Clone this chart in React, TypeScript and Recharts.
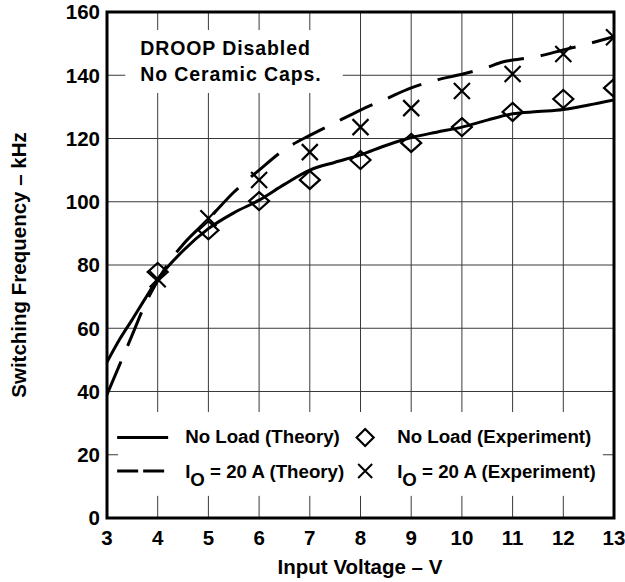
import React from 'react';
import {
  ComposedChart,
  Line,
  Scatter,
  XAxis,
  YAxis,
  CartesianGrid,
  ReferenceArea,
} from 'recharts';

// Theory curves: input voltage (V) vs switching frequency (kHz)
const noLoadTheoryVin = [3, 3.25, 3.5, 3.75, 4, 4.5, 5, 5.5, 6, 6.5, 7, 7.5, 8, 8.5, 9, 9.5, 10, 10.5, 11, 11.5, 12, 12.5, 13];
const noLoadTheoryKHz = [49.3, 56.5, 62.8, 69.3, 75.5, 84.5, 91.5, 96.5, 100.5, 105.5, 110, 112.5, 114.8, 117.8, 120.3, 122, 123.6, 125.8, 127.8, 128.5, 129.2, 130.6, 132.2];

const io20TheoryVin = [3, 3.25, 3.5, 3.75, 4, 4.25, 4.5, 5, 5.5, 6, 6.5, 7, 7.5, 8, 8.5, 9, 9.5, 10, 10.5, 10.8, 11, 11.5, 12, 12.5, 13];
const io20TheoryKHz = [39, 48.5, 58, 67.5, 75, 81.5, 86.5, 94.5, 103, 110, 116.5, 121, 125, 129, 132.5, 136, 138.5, 140.3, 142.5, 144.2, 144.8, 146, 148, 150, 152.2];

// Measured points
const experimentVin = [4, 5, 6, 7, 8, 9, 10, 11, 12, 13];
const noLoadExpKHz = [77.8, 91, 100.2, 106.9, 113.2, 118.6, 123.6, 128.4, 132.5, 136];
const io20ExpKHz = [75.5, 94.8, 106.9, 115.7, 123.6, 129.6, 135, 140.4, 146.7, 152];

// Axis ticks
const vinTicks = [3, 4, 5, 6, 7, 8, 9, 10, 11, 12, 13];
const kHzTicks = [0, 20, 40, 60, 80, 100, 120, 140, 160];

const toPoints = (xs: number[], ys: number[]) => xs.map((vin, i) => ({ vin, f: ys[i] }));

const noLoadTheory = toPoints(noLoadTheoryVin, noLoadTheoryKHz);
const io20Theory = toPoints(io20TheoryVin, io20TheoryKHz);
const noLoadExp = toPoints(experimentVin, noLoadExpKHz);
const io20Exp = toPoints(experimentVin, io20ExpKHz);

const FONT = '"Liberation Sans", Arial, Helvetica, sans-serif';

const Diamond = (props: any) => {
  const { cx, cy } = props;
  if (cx == null || cy == null) return null;
  return (
    <path
      d={`M${cx},${cy - 9} L${cx + 10},${cy} L${cx},${cy + 9} L${cx - 10},${cy} Z`}
      fill="none"
      stroke="#000"
      strokeWidth={2.2}
    />
  );
};

const Cross = (props: any) => {
  const { cx, cy } = props;
  if (cx == null || cy == null) return null;
  const r = 8;
  return (
    <path
      d={`M${cx - r},${cy - r} L${cx + r},${cy + r} M${cx - r},${cy + r} L${cx + r},${cy - r}`}
      fill="none"
      stroke="#000"
      strokeWidth={2.2}
    />
  );
};

const textStyle = { fontFamily: FONT, fontWeight: 700, fill: '#000' } as const;

// White panel carrying the test-condition note
const NotePanel = (props: any) => {
  const { x, y, width, height } = props;
  return (
    <g>
      <rect x={x} y={y} width={width} height={height} fill="#fff" />
      <text x={x + 15} y={y + 25} fontSize={19.5} letterSpacing={0.9} {...textStyle}>DROOP Disabled</text>
      <text x={x + 15} y={y + 51} fontSize={19.5} letterSpacing={0.9} {...textStyle}>No Ceramic Caps.</text>
    </g>
  );
};

// White panel carrying the legend
const LegendPanel = (props: any) => {
  const { x, y, width, height } = props;
  const r1 = y + 25.5;
  const r2 = y + 59;
  const c1 = x - 1;
  const t1 = x + 67;
  const m = x + 247;
  const t2 = x + 279;
  return (
    <g>
      <rect x={x} y={y} width={width} height={height} fill="#fff" />
      <line x1={c1} y1={r1} x2={c1 + 51} y2={r1} stroke="#000" strokeWidth={3} />
      <line x1={c1} y1={r2} x2={c1 + 51} y2={r2} stroke="#000" strokeWidth={3} strokeDasharray="21 5" />
      <text x={t1} y={r1 + 5} fontSize={18.7} {...textStyle}>No Load (Theory)</text>
      <text x={t1} y={r2 + 7} fontSize={18.7} {...textStyle}>
        I<tspan dy={8}>O</tspan><tspan dy={-8}> = 20 A (Theory)</tspan>
      </text>
      <path
        d={`M${m},${r1 - 8.5} L${m + 8.5},${r1} L${m},${r1 + 8.5} L${m - 8.5},${r1} Z`}
        fill="none"
        stroke="#000"
        strokeWidth={2.2}
      />
      <path
        d={`M${m - 7},${r2 - 7} L${m + 7},${r2 + 7} M${m - 7},${r2 + 7} L${m + 7},${r2 - 7}`}
        fill="none"
        stroke="#000"
        strokeWidth={2}
      />
      <text x={t2} y={r1 + 5} fontSize={18.7} {...textStyle}>No Load (Experiment)</text>
      <text x={t2} y={r2 + 7} fontSize={18.7} {...textStyle}>
        I<tspan dy={8}>O</tspan><tspan dy={-8}> = 20 A (Experiment)</tspan>
      </text>
    </g>
  );
};

const AxisTitles = () => (
  <g>
    <text x={360} y={574} fontSize={20.5} textAnchor="middle" {...textStyle}>Input Voltage – V</text>
    <text
      x={19}
      y={265}
      dy={7}
      fontSize={20.5}
      textAnchor="middle"
      transform="rotate(-90, 19, 265)"
      {...textStyle}
    >
      Switching Frequency – kHz
    </text>
  </g>
);

export default function App() {
  return (
    <div style={{ position: 'absolute', left: 0, top: 0, background: '#fff' }}>
      <ComposedChart
        width={625}
        height={582}
        margin={{ top: 12, right: 11, bottom: 34, left: 47 }}
        style={{ background: '#fff' }}
      >
        <CartesianGrid stroke="#3a3a3a" strokeWidth={1} />
        <XAxis
          type="number"
          dataKey="vin"
          domain={[3, 13]}
          ticks={vinTicks}
          allowDataOverflow
          height={30}
          axisLine={false}
          tickLine={false}
          tickSize={6}
          tickMargin={6}
          tick={{ fontSize: 20.5, fontFamily: FONT, fontWeight: 700, fill: '#000' }}
        />
        <YAxis
          type="number"
          dataKey="f"
          domain={[0, 160]}
          ticks={kHzTicks}
          allowDataOverflow
          width={60}
          axisLine={false}
          tickLine={false}
          tickSize={5}
          tickMargin={2}
          tick={{ fontSize: 20.5, fontFamily: FONT, fontWeight: 700, fill: '#000' }}
        />
        <ReferenceArea x1={3.36} x2={7.65} y1={134.4} y2={154.3} shape={<NotePanel />} />
        <ReferenceArea x1={3.22} x2={12.78} y1={7} y2={33.5} shape={<LegendPanel />} />
        <Line
          data={noLoadTheory}
          dataKey="f"
          type="monotone"
          stroke="#000"
          strokeWidth={3}
          dot={false}
          activeDot={false}
          isAnimationActive={false}
        />
        <Line
          data={io20Theory}
          dataKey="f"
          type="monotone"
          stroke="#000"
          strokeWidth={3}
          strokeDasharray="36 17"
          dot={false}
          activeDot={false}
          isAnimationActive={false}
        />
        <Scatter data={noLoadExp} dataKey="f" shape={<Diamond />} isAnimationActive={false} />
        <Scatter data={io20Exp} dataKey="f" shape={<Cross />} isAnimationActive={false} />
        {/* plot frame */}
        <ReferenceArea x1={3} x2={13} y1={0} y2={160} fill="none" stroke="#000" strokeWidth={3} />
        <AxisTitles />
      </ComposedChart>
    </div>
  );
}
